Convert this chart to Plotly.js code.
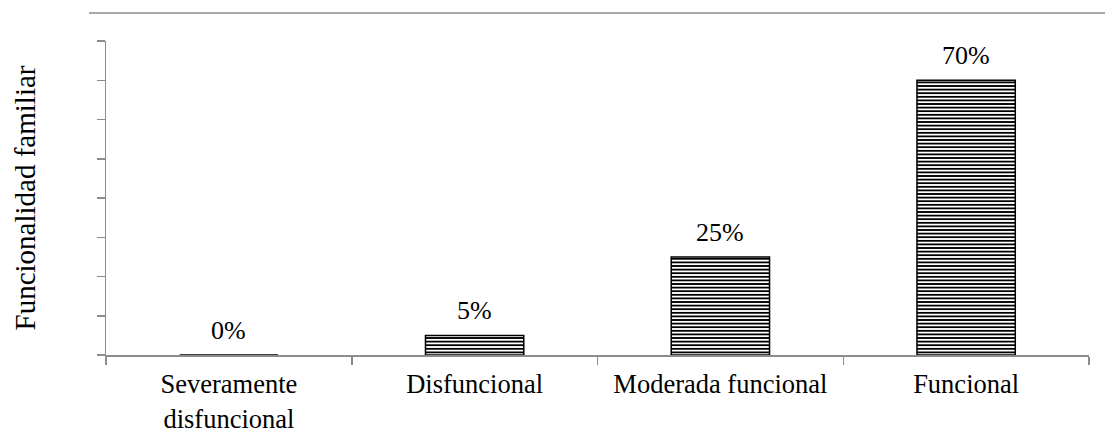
<!DOCTYPE html>
<html>
<head>
<meta charset="utf-8">
<script src="https://cdn.plot.ly/plotly-3.0.1.min.js"></script>
<style>html,body{margin:0;padding:0;background:#fff;}#chart{width:1105px;height:442px;}</style>
</head>
<body>
<div id="chart"></div>
<script>
var categories = ["Severamente<br>disfuncional", "Disfuncional", "Moderada funcional", "Funcional"];
var values = [0, 5, 25, 70];
var valueLabels = ["0%", "5%", "25%", "70%"];
var yTitle = "Funcionalidad familiar";

var font = "Liberation Serif";

var trace = {
  type: "bar",
  x: categories,
  y: values,
  width: 0.4,
  marker: {
    color: "#ffffff",
    line: {color: "#000", width: 1.5},
    pattern: {shape: "-", fgcolor: "#000", bgcolor: "#fff", size: 3.6, solidity: 0.5, fillmode: "replace"}
  },
  hoverinfo: "none"
};

var annotations = categories.map(function (c, i) {
  return {
    x: c, y: values[i], xref: "x", yref: "y",
    text: valueLabels[i], showarrow: false,
    yanchor: "bottom", yshift: 8,
    font: {family: font, size: 26, color: "#000"}
  };
});

var layout = {
  width: 1105, height: 442,
  margin: {l: 106, r: 16, t: 41, b: 87},
  paper_bgcolor: "#fff", plot_bgcolor: "#fff",
  showlegend: false,
  font: {family: font, color: "#000", size: 26},
  xaxis: {
    type: "category",
    showline: true, linecolor: "#8c8c8c", linewidth: 1.5,
    ticks: "outside", tickson: "boundaries", ticklen: 8, tickcolor: "#8c8c8c", tickwidth: 1.5,
    ticklabelstandoff: 5,
    tickfont: {family: font, size: 26.5, color: "#000"},
    showgrid: false, zeroline: false, fixedrange: true
  },
  yaxis: {
    range: [0, 80], dtick: 10,
    showline: true, linecolor: "#8c8c8c", linewidth: 1.5,
    ticks: "outside", ticklen: 8, tickcolor: "#8c8c8c", tickwidth: 1.5,
    showticklabels: false, showgrid: false, zeroline: false,
    title: {text: yTitle, font: {family: font, size: 29, color: "#000"}, standoff: 52},
    fixedrange: true
  },
  annotations: annotations,
  shapes: [{
    type: "line", xref: "paper", yref: "paper",
    x0: -0.0173, x1: 1.0163, y0: 1.0893, y1: 1.0893,
    line: {color: "#8c8c8c", width: 1.5}
  }],
  bargap: 0.6
};

Plotly.newPlot("chart", [trace], layout, {displayModeBar: false, staticPlot: true});
</script>
</body>
</html>
